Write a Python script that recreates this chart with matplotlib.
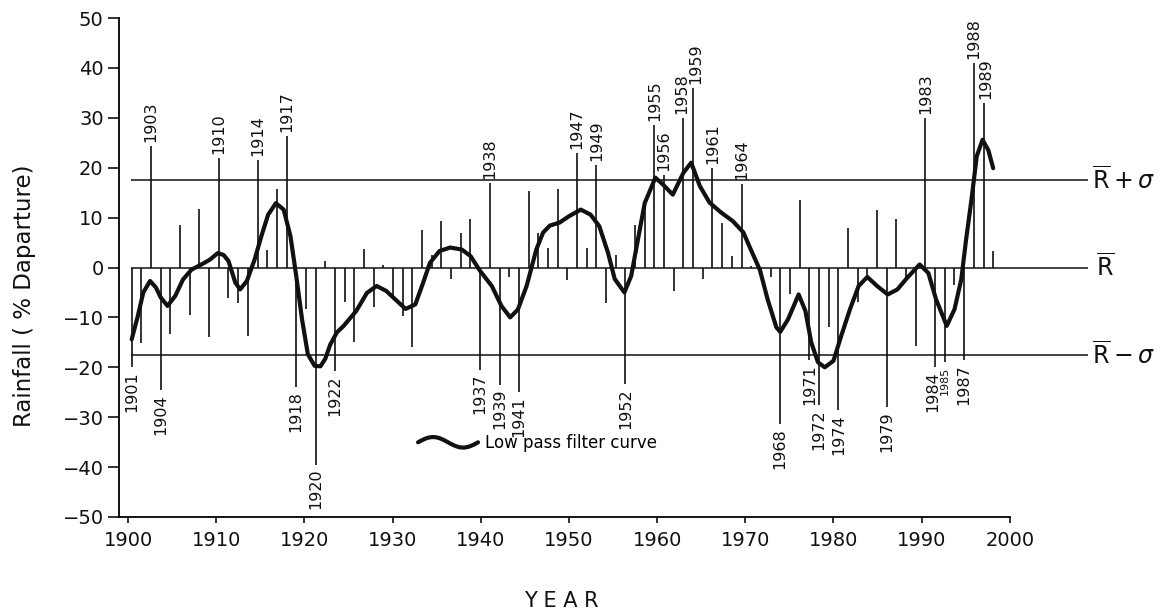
import numpy as np
import matplotlib
matplotlib.use("Agg")
import matplotlib.pyplot as plt
from matplotlib.legend_handler import HandlerBase
from matplotlib.lines import Line2D

# yearly rainfall departure (% of mean), 1901-1990
years = np.arange(1901, 1991)
departure = [
    -20, -15.2, 24.4, -24.5, -13.4, 8.6, -9.6, 11.8, -14, 22,
    -6.2, -7.2, -13.7, 21.5, 3.6, 15.8, 26.4, -24, -8.3, -39.5,
    1.3, -20.8, -7, -15, 3.8, -8, 0.6, -6.4, -9.7, -16,
    7.5, 2.5, 9.3, -2.3, 7, 9.7, -20.5, 17, -23.5, -2.0,
    -25, 15.4, 7, 4, 15.8, -2.6, 23, 4, 20.6, -7.2,
    2.6, -23.4, 8.6, 13.6, 28.5, 18.5, -4.7, 30, 36, -2.4,
    20, 9, 2.4, 16.8, 0.4, -0.5, -2, -31.4, -5.4, 13.6,
    -18.5, -27.5, -12, -28.5, 8, -7, -1.7, 11.6, -28, 9.7,
    -2, -15.8, 30, -20, -19, -3.5, -18.5, 41, 33, 3.4,
]

# low pass filter curve
curve_years = [
    1901.0, 1901.6, 1902.2, 1902.9, 1903.5, 1904.0, 1904.7, 1905.5, 1906.3, 1907.2,
    1908.2, 1909.1, 1909.9, 1910.5, 1911.0, 1911.7, 1912.2, 1912.9, 1913.7, 1914.4,
    1915.1, 1915.9, 1916.7, 1917.4, 1918.0, 1918.6, 1919.2, 1919.9, 1920.5, 1921.0,
    1921.5, 1922.2, 1922.9, 1924.2, 1925.3, 1926.3, 1927.3, 1928.4, 1929.3, 1930.3,
    1931.1, 1931.8, 1932.8, 1933.9, 1935.1, 1936.0, 1937.0, 1938.2, 1939.2, 1940.1,
    1940.9, 1941.8, 1942.8, 1943.5, 1944.2, 1945.2, 1946.2, 1947.4, 1948.4, 1949.3,
    1950.2, 1950.9, 1951.9, 1952.6, 1953.3, 1954.0, 1955.1, 1955.9, 1956.9, 1958.0,
    1958.8, 1959.7, 1960.7, 1961.9, 1963.1, 1964.2, 1964.8, 1965.9, 1966.7, 1967.6,
    1968.0, 1968.8, 1969.9, 1970.6, 1971.2, 1971.9, 1972.6, 1973.5, 1974.3, 1975.2,
    1976.1, 1977.0, 1978.0, 1979.1, 1980.1, 1981.1, 1982.4, 1983.3, 1984.1, 1985.2,
    1986.0, 1986.7, 1987.2, 1987.8, 1988.3, 1988.9, 1989.5, 1990.0,
]
curve_values = [
    -14.4, -10, -5, -2.7, -4, -6, -7.7, -5.7, -2.4, -0.4,
    0.6, 1.6, 2.9, 2.5, 1.3, -3, -4.4, -2.7, 1.6, 6.3,
    10.6, 12.9, 11.6, 6.3, -1.7, -10.4, -17.4, -19.7, -19.8, -18.3,
    -15.5, -13, -11.7, -8.7, -5.1, -3.7, -4.7, -6.7, -8.3, -7.4,
    -3.1, 0.9, 3.3, 4.0, 3.6, 2.3, -0.7, -3.7, -7.7, -10,
    -8.4, -3.7, 3.6, 7, 8.4, 9, 10.3, 11.6, 10.6, 8.3,
    3, -2.3, -5, -1.7, 5.6, 12.9, 18, 16.6, 14.6, 19,
    21, 16.3, 13, 11, 9.3, 7, 4.3, -0.5, -6.4, -12,
    -12.9, -10.4, -5.4, -8.7, -15, -19, -20, -18.7, -13.7, -8.4,
    -3.7, -1.9, -3.7, -5.4, -4.4, -2.1, 0.6, -1.1, -6.4, -11.7,
    -8.4, -2.4, 5.6, 14.3, 22.3, 25.6, 23.5, 19.9,
]

labelled_up = [1903, 1910, 1914, 1917, 1938, 1947, 1949, 1955, 1956, 1958,
               1959, 1961, 1964, 1983, 1988, 1989]
labelled_down = [1901, 1904, 1918, 1920, 1922, 1937, 1939, 1941, 1952, 1968,
                 1971, 1972, 1974, 1979, 1984, 1985, 1987]
label_shift = {1958: -1.5, 1959: 2.0, 1984: -1.5, 1989: 1.5}
sigma = 17.5
decade_labels = list(range(1900, 2001, 10))

# in the original the printed year axis does not line up with the bars,
# the decade ticks sit at these bar-year positions
tick_origin = 1900.62
tick_step = 0.911


class WavyHandler(HandlerBase):
    def create_artists(self, legend, orig_handle, xdescent, ydescent,
                       width, height, fontsize, trans):
        t = np.linspace(0, 1, 50)
        x = -xdescent + t * width
        y = -ydescent + height / 2 + 0.45 * height * np.sin(2 * np.pi * t)
        line = Line2D(x, y, color=orig_handle.get_color(),
                      lw=orig_handle.get_linewidth(), solid_capstyle="round")
        line.set_transform(trans)
        return [line]


fig = plt.figure(figsize=(11.62, 6.16), dpi=100)
xmin, xmax = 1899.69, 2000.0
px_year = 9.68
ax = fig.add_axes([119 / 1162, 1 - 517 / 616,
                   (xmax - xmin) * px_year / 1162, (517 - 18) / 616])

ink = "#111111"
ax.vlines(years, 0, departure, color=ink, lw=1.2)
for lvl in (0, sigma, -sigma):
    ax.hlines(lvl, 1900.9, 1999.8, color=ink, lw=1.1)

curve, = ax.plot(curve_years, curve_values, color=ink, lw=3,
                 solid_joinstyle="round", solid_capstyle="round",
                 label="Low pass filter curve")

vals = dict(zip(years, departure))
for yr in labelled_up:
    ax.annotate(str(yr), (yr, vals[yr]), xytext=(label_shift.get(yr, 0), 3),
                textcoords="offset points", rotation=90,
                ha="center", va="bottom", fontsize=11.5, color=ink)
for yr in labelled_down:
    fs = 8 if yr == 1985 else 11.5
    ax.annotate(str(yr), (yr, vals[yr]), xytext=(label_shift.get(yr, 0), -3),
                textcoords="offset points", rotation=90,
                ha="center", va="top", fontsize=fs, color=ink)

ax.text(2000.2, sigma, r"$\overline{\mathrm{R}}+\sigma$", fontsize=17,
        va="center", ha="left", color=ink)
ax.text(2000.6, 0, r"$\overline{\mathrm{R}}$", fontsize=17,
        va="center", ha="left", color=ink)
ax.text(2000.2, -sigma, r"$\overline{\mathrm{R}}-\sigma$", fontsize=17,
        va="center", ha="left", color=ink)

ax.set_xlim(xmin, xmax)
ax.set_ylim(-50, 50)
ax.set_yticks(range(-50, 51, 10))
ax.set_xticks([tick_origin + (d - 1900) * tick_step for d in decade_labels])
ax.set_xticklabels([str(d) for d in decade_labels])
ax.tick_params(axis="y", direction="out", length=8, width=1.2,
               labelsize=14, colors=ink, pad=3)
ax.tick_params(axis="x", direction="out", length=4, width=1.2,
               labelsize=14, colors=ink, pad=6)
for side in ("top", "right"):
    ax.spines[side].set_visible(False)
ax.spines["left"].set_linewidth(1.3)
ax.spines["bottom"].set_linewidth(1.3)
ax.spines["bottom"].set_bounds(xmin, tick_origin + 100 * tick_step)

leg = ax.legend([curve], ["Low pass filter curve"],
                handler_map={Line2D: WavyHandler()},
                loc="center left", bbox_to_anchor=(0.308, 0.148),
                frameon=False, fontsize=12, handlelength=3.6,
                handletextpad=0.4, borderpad=0, borderaxespad=0)

fig.text(0.021, 0.52, "Rainfall ( % Daparture)", rotation=90,
         fontsize=16.5, ha="center", va="center", color=ink)
fig.text(0.483, 0.025, "Y E A R", fontsize=15, ha="center", va="center",
         color=ink)

fig.savefig("out.png", dpi=100, facecolor="white")
